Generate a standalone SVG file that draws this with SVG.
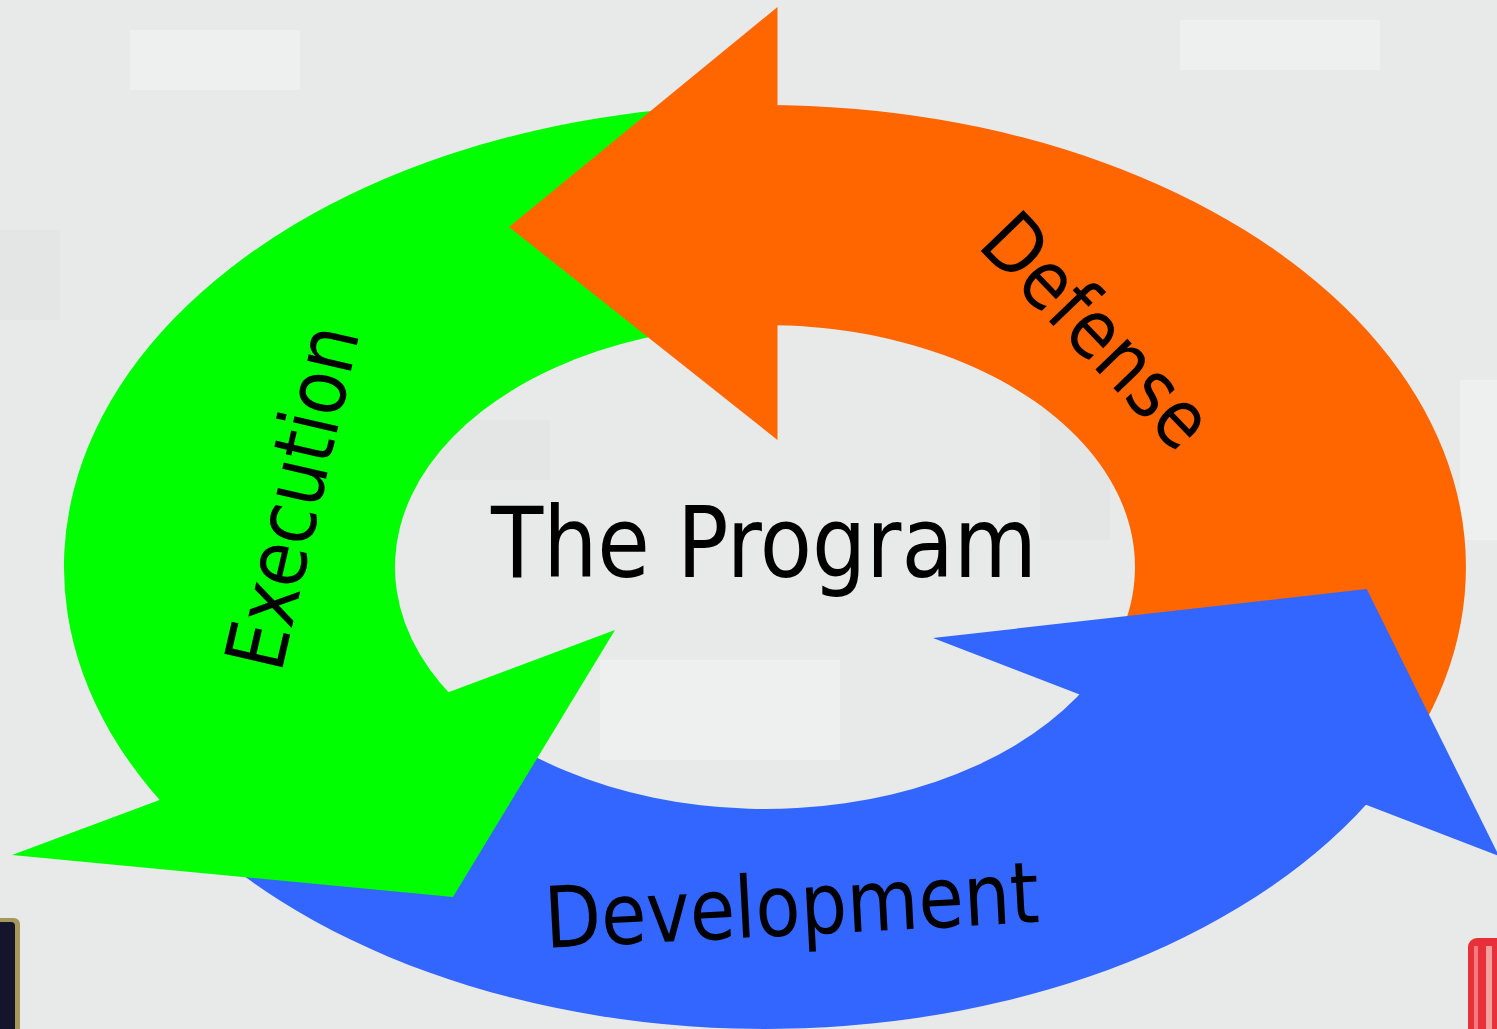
<svg xmlns="http://www.w3.org/2000/svg" width="1497" height="1029" viewBox="0 0 1497 1029">
  <style>
    .lbl { font-family: "DejaVu Sans Condensed", "DejaVu Sans", sans-serif; fill: #000000; }
    .g { fill: #00ff00; }
    .o { fill: #ff6600; }
    .b { fill: #3366ff; }
    .tex { fill: #edf0ee; }
    .tex2 { fill: #e3e6e4; }
  </style>
  <rect x="0" y="0" width="1497" height="1029" fill="#e7eae8"/>
  <g id="background-texture">
    <rect class="tex" x="130" y="30" width="170" height="60"/>
    <rect class="tex" x="1180" y="20" width="200" height="50"/>
    <rect class="tex2" x="0" y="230" width="60" height="90"/>
    <rect class="tex" x="600" y="660" width="240" height="100"/>
    <rect class="tex2" x="1040" y="380" width="70" height="160"/>
    <rect class="tex" x="1460" y="380" width="37" height="160"/>
    <rect class="tex2" x="430" y="420" width="120" height="60"/>
  </g>
  <g id="corner-left">
    <rect x="-12" y="918" width="32" height="130" rx="6" fill="#a8975a"/>
    <rect x="-12" y="922" width="27" height="120" rx="4" fill="#14142a"/>
  </g>
  <g id="corner-right">
    <rect x="1468" y="938" width="45" height="110" rx="9" fill="#e83038"/>
    <rect x="1474" y="946" width="4" height="90" fill="#f27a80"/>
    <rect x="1486" y="946" width="6" height="90" fill="#f4a0a0"/>
  </g>
  <g id="connectors">
    <path id="execution-shaft" class="g" d="M 716.1,106.1 A 701 462 0 0 0 200.0,840.5 L 466.8,710.3 A 370 242 0 0 1 739.2,325.6 Z"/>
    <path id="defense-shaft" class="o" d="M 765,105 A 701 462 0 0 1 1400.3,762.2 L 1100.3,669.3 A 370 242 0 0 0 765,325 Z"/>
    <path id="development-shaft" class="b" d="M 190.8,832.0 A 701 462 0 0 0 1400.3,762.2 L 1100.3,669.3 A 370 242 0 0 1 461.9,705.8 Z"/>
    <polygon id="defense-head" class="o" points="509,227 777.5,7 777.5,440"/>
    <polygon id="development-head" class="b" points="1499,856 1366.7,589 933,638"/>
    <polygon id="execution-head" class="g" points="12,855 615,630 453,897"/>
  </g>
  <g id="node-execution">
    <text class="lbl" font-size="82" textLength="350" lengthAdjust="spacingAndGlyphs" transform="translate(281,674) rotate(-77)">Execution</text>
  </g>
  <g id="node-defense">
    <text class="lbl" font-size="81" textLength="290" lengthAdjust="spacingAndGlyphs" transform="translate(976,246) rotate(46)">Defense</text>
  </g>
  <g id="node-development">
    <text class="lbl" font-size="85" textLength="495" lengthAdjust="spacingAndGlyphs" transform="translate(546,948) rotate(-3)">Development</text>
  </g>
  <g id="node-program">
    <text class="lbl" x="491" y="577" font-size="98" textLength="546" lengthAdjust="spacingAndGlyphs">The Program</text>
  </g>
</svg>
